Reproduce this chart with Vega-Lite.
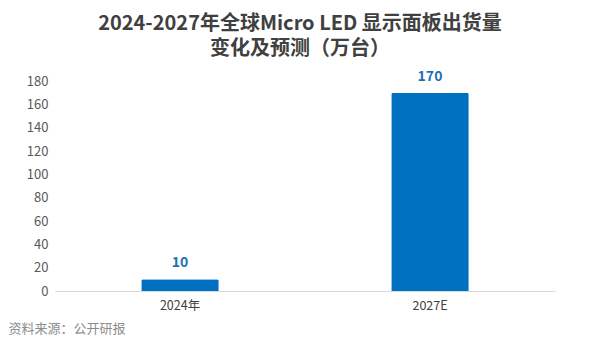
{
  "$schema": "https://vega.github.io/schema/vega-lite/v6.json",
  "width": 500,
  "height": 210,
  "autosize": "none",
  "padding": {"left": 55, "top": 81, "right": 45, "bottom": 55},
  "background": "white",
  "config": {"view": {"stroke": null}, "font": "Noto Sans CJK SC"},
  "title": {
    "text": ["2024-2027年全球Micro LED 显示面板出货量", "变化及预测（万台）"],
    "fontSize": 20,
    "fontWeight": "bold",
    "color": "#404040",
    "anchor": "middle",
    "dx": -5,
    "lineHeight": 25,
    "offset": 11
  },
  "data": {"values": [
    {"year": "2024年", "value": 10},
    {"year": "2027E", "value": 170}
  ]},
  "encoding": {
    "x": {"field": "year", "type": "nominal", "sort": null,
      "scale": {"paddingInner": 0.69, "paddingOuter": 0.345},
      "axis": {"title": "资料来源：公开研报", "titleX": -47, "titleY": 37, "titleAnchor": "start", "titleAlign": "left", "titleBaseline": "middle",
        "titleFontSize": 13, "titleFontWeight": "normal", "titleColor": "#8C8C8C",
        "labelAngle": 0, "labelFontSize": 12.5, "labelColor": "#404040", "labelPadding": 8,
        "ticks": false, "domainColor": "#D9D9D9", "domainWidth": 1}},
    "y": {"field": "value", "type": "quantitative",
      "scale": {"domain": [0, 180]},
      "axis": {"title": null, "values": [0, 20, 40, 60, 80, 100, 120, 140, 160, 180], "grid": false, "ticks": false, "domain": false,
        "labelOverlap": false, "labelFontSize": 13, "labelColor": "#595959", "labelPadding": 7}}
  },
  "layer": [
    {
      "mark": {"type": "bar", "color": "#0070C0", "cornerRadiusTopLeft": 2, "cornerRadiusTopRight": 2}
    },
    {
      "mark": {"type": "text", "fontSize": 14, "fontWeight": "bold", "color": "#1F6FB5", "baseline": "bottom", "dy": -9},
      "encoding": {
        "text": {"field": "value", "type": "quantitative"}
      }
    }
  ]
}
